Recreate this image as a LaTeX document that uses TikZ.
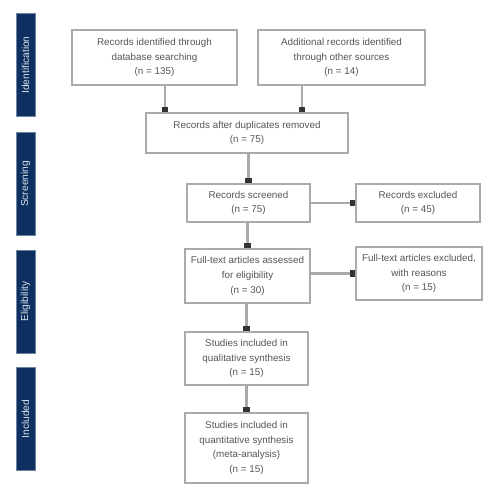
\documentclass[tikz,border=0pt]{standalone}
\usepackage{fontspec}
\setmainfont{Liberation Sans}
\usetikzlibrary{arrows.meta,calc}
\definecolor{navy}{RGB}{14,48,96}
\definecolor{boxline}{RGB}{170,170,170}
\definecolor{txt}{RGB}{85,85,85}
\begin{document}
\begin{tikzpicture}[x=0.02cm,y=-0.02cm,
  box/.style={draw=boxline,line width=0.9pt,align=center,inner sep=1pt,
    font=\fontsize{5.6}{8.4}\selectfont,text=txt},
  phase/.style={fill=navy,draw=navy!60,line width=0.4pt,minimum width=19*0.02cm,minimum height=103*0.02cm,
    inner sep=0pt},
  phasetext/.style={rotate=90,text=white!85!navy,font=\fontsize{5.8}{6}\selectfont},
  arr/.style={draw=boxline,line width=1.2pt,-{Square[length=3.2pt,width=3.6pt,black!80]}}]
\useasboundingbox (0,0) rectangle (500,500);
% phase bars
\node[phase] (p1) at (25.5,65) {};
\node[phase] (p2) at (25.5,184) {};
\node[phase] (p3) at (25.5,301.5) {};
\node[phase] (p4) at (25.5,419) {};
\node[phasetext] (t1) at (p1) {Identification};
\node[phasetext] (t2) at (p2) {Screening};
\node[phasetext] (t3) at (p3) {Eligibility};
\node[phasetext] (t4) at (p4) {Included};
% boxes
\node[box,minimum width=165*0.02cm,minimum height=55*0.02cm] (b1) at (154.5,57.5)
  {Records identified through\\database searching\\(n = 135)};
\node[box,minimum width=167*0.02cm,minimum height=55*0.02cm] (b2) at (341.5,57.5)
  {Additional records identified\\through other sources\\(n = 14)};
\node[box,minimum width=202*0.02cm,minimum height=40*0.02cm] (b3) at (247,133)
  {Records after duplicates removed\\(n = 75)};
\node[box,minimum width=123*0.02cm,minimum height=38*0.02cm] (b4) at (248.5,203)
  {Records screened\\(n = 75)};
\node[box,minimum width=124*0.02cm,minimum height=38*0.02cm] (b5) at (418,203)
  {Records excluded\\(n = 45)};
\node[box,minimum width=125*0.02cm,minimum height=54*0.02cm] (b6) at (247.5,276)
  {Full-text articles assessed\\for eligibility\\(n = 30)};
\node[box,minimum width=126*0.02cm,minimum height=53*0.02cm] (b7) at (419,273.5)
  {Full-text articles excluded,\\with reasons\\(n = 15)};
\node[box,minimum width=123*0.02cm,minimum height=53*0.02cm] (b8) at (246.5,358.5)
  {Studies included in\\qualitative synthesis\\(n = 15)};
\node[box,minimum width=123*0.02cm,minimum height=70*0.02cm] (b9) at (246.5,448)
  {Studies included in\\quantitative synthesis\\(meta-analysis)\\(n = 15)};
% connectors
\coordinate (x1) at (165,0);
\coordinate (x2) at (302,0);
\draw[arr] (b1.south -| x1) -- (b3.north -| x1);
\draw[arr] (b2.south -| x2) -- (b3.north -| x2);
\draw[arr] (b3.south -| b4.north) -- (b4.north);
\draw[arr] (b4.east |- b5.west) -- (b5.west);
\draw[arr] (b4.south -| b6.north) -- (b6.north);
\draw[arr] (b6.east |- b7.west) -- (b7.west);
\draw[arr] (b6.south -| b8.north) -- (b8.north);
\draw[arr] (b8.south) -- (b9.north);
\end{tikzpicture}
\end{document}
